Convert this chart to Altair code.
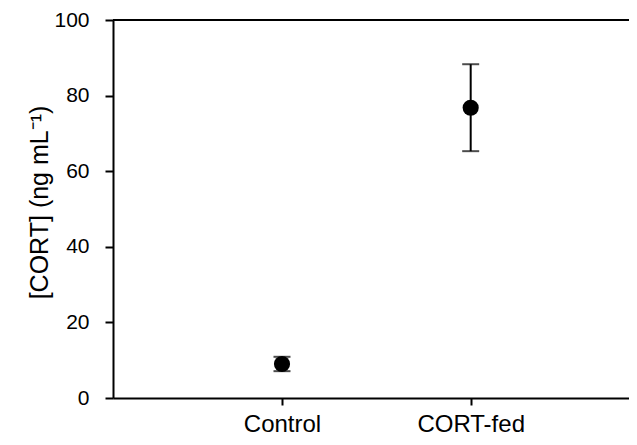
import altair as alt
import pandas as pd

# ---- data ----
groups = ["Control", "CORT-fed"]
means = [9.0, 76.8]
sems = [1.9, 11.5]
y_ticks = [0, 20, 40, 60, 80, 100]

positions = list(range(1, len(groups) + 1))
df = pd.DataFrame({
    "group": groups,
    "pos": positions,
    "mean": means,
    "lo": [m - s for m, s in zip(means, sems)],
    "hi": [m + s for m, s in zip(means, sems)],
})

label_expr = " : ".join(
    [f"datum.value == {p} ? '{g}'" for p, g in zip(positions, groups)]
) + " : ''"

FONT = "Liberation Sans, Arial, Helvetica, sans-serif"
W, H = 516, 378

x_scale = alt.Scale(domain=[0.1044, 2.839], nice=False, zero=False)
y_scale = alt.Scale(domain=[0, 100], nice=False, zero=True)

x_axis = alt.Axis(
    values=positions, labelExpr=label_expr, title=None, grid=False,
    tickSize=7, tickWidth=2, tickColor="black", domainColor="black",
    domainWidth=2, labelFontSize=24, labelFont=FONT, labelColor="black",
    labelPadding=7, labelAngle=0,
)
y_axis = alt.Axis(
    values=y_ticks, title="[CORT] (ng mL\u207b\u00b9)", grid=False,
    tickSize=8, tickWidth=2, tickColor="black", domainColor="black",
    domainWidth=2, labelFontSize=21, labelFont=FONT, labelColor="black",
    labelPadding=16, titleFontSize=25, titleFont=FONT, titleFontWeight="normal",
    titleColor="black", titlePadding=1, titleY=182,
)

base = alt.Chart(df)

err = base.mark_rule(color="black", strokeWidth=2).encode(
    x=alt.X("pos:Q", scale=x_scale, axis=x_axis),
    y=alt.Y("lo:Q", scale=y_scale, axis=y_axis),
    y2="hi:Q",
)
cap_lo = base.mark_tick(orient="horizontal", size=17, thickness=2, color="black").encode(
    x="pos:Q", y="lo:Q"
)
cap_hi = base.mark_tick(orient="horizontal", size=17, thickness=2, color="black").encode(
    x="pos:Q", y="hi:Q"
)
pts = base.mark_point(filled=True, color="black", opacity=1, size=260, shape="circle").encode(
    x="pos:Q", y="mean:Q"
)
top = base.mark_rule(color="black", strokeWidth=2).encode(
    y=alt.datum(100), x=alt.value(0), x2=alt.value(W)
)

chart = alt.layer(err, cap_lo, cap_hi, pts, top).properties(
    width=W, height=H,
    autosize=alt.AutoSizeParams(type="none"),
    padding={"left": 105, "top": 12, "right": 0, "bottom": 39},
    background="white",
).configure_view(stroke=None)

chart.save("out.html", embed_options={"renderer": "svg", "actions": False})
